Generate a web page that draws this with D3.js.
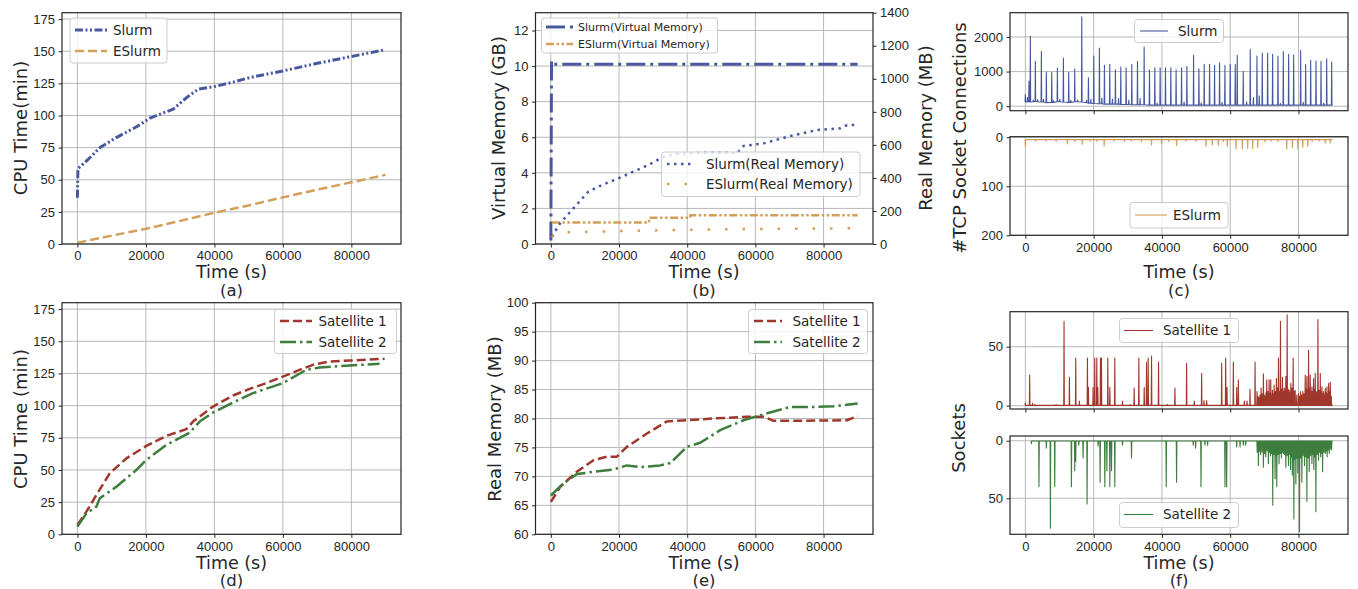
<!DOCTYPE html>
<html>
<head>
<meta charset="utf-8">
<script src="https://cdn.jsdelivr.net/npm/d3@7"></script>
<style>
  body { margin: 0; background: #fff; }
  svg { font-family: "DejaVu Sans", sans-serif; }
  .tick text { fill: #262626; font-size: 13px; }
  .tick line { stroke: #262626; }
  .grid line { stroke: #b0b0b0; stroke-width: 0.9; }
  .lab { fill: #262626; font-size: 18px; }
</style>
</head>
<body>
<svg id="chart" width="1358" height="589"></svg>
<script>
// ---------- data ----------
const timeTicks = [0, 20000, 40000, 60000, 80000];

// (a) CPU time, minutes
const cpuSlurm = [[0,36],[150,58.6],[2800,65],[6700,75.3],[11500,83],[17400,91.4],[21200,98],[28000,105],
  [31900,114],[35300,120.5],[39600,122.3],[45500,126],[50300,129.5],[60000,134.7],[69700,140.4],[79400,145.6],[89600,151]];
const cpuESlurm = [[0,1],[10000,6.5],[20000,11.8],[30000,18],[40000,24.3],[50000,30],[60000,36.3],[70000,42.3],[80000,48],[90000,53.8]];

// (b) virtual memory GB (left) and real memory MB (right)
const vmSlurm = [[0,0.2],[200,10.28],[700,10.1],[90000,10.1]];
const vmESlurm = [[300,1.21],[28800,1.21],[28800,1.48],[40900,1.48],[40900,1.61],[90000,1.61]];
const rmSlurm = [[300,44],[2700,125],[6600,216],[11000,317],[15400,361],[19800,397],[24200,438],[28600,478],[33000,528],
  [37000,545],[44800,552],[52600,552],[54500,545],[56500,593],[62400,609],[70200,653],[78000,690],[84900,700],[86900,720],[90000,720]];
const rmESlurm = [[300,40],[1500,65],[4000,70],[20000,78],[40000,86],[60000,91],[90000,95]];

// (c) TCP socket connections: [time, peak, floor]
const tcpSlurm = [[0,338,120],[1070,725,130],[1460,2020,120],[2930,1295,140],[4690,1585,120],[6150,976,100],[7720,976,110],
  [9380,1100,130],[11140,1390,120],[12700,976,110],[14460,1080,130],[16520,2580,120],[18470,820,90],[20030,1450,80],
  [21690,1680,70],[23160,1180,60],[24720,1210,60],[26380,1050,60],[27950,1130,50],[29510,1110,50],[31180,1210,40],
  [32840,1295,40],[34790,1710,40],[36350,1050,30],[37920,1110,30],[39480,1110,30],[41040,1110,30],[42610,1110,30],
  [44150,1050,30],[45750,1110,30],[47310,1150,30],[49270,1470,30],[50830,1080,30],[52390,1210,30],[53950,1210,30],
  [55420,1180,30],[56880,1255,30],[58450,1180,30],[60010,1210,30],[61480,1210,30],[62060,1470,30],[63820,1005,30],
  [65870,1640,30],[67830,1450,30],[69390,1535,30],[70960,1535,30],[72420,1500,30],[73990,1450,30],[75550,1575,30],
  [77110,1500,30],[78580,1480,30],[80630,1615,30],[82100,1200,30],[83570,1325,30],[85130,1305,30],[86600,1295,30],
  [88260,1370,30],[89720,1275,30]];
const tcpSlurmSmall = [[600,260,120],[2300,180,130],[3600,190,130],[5300,200,120],[8200,160,110],[10100,200,130],
  [13300,170,110],[15300,180,130],[17900,170,100],[19200,200,90],[22400,230,70],[25500,210,60],[27300,220,60],
  [30300,180,50],[33600,230,40],[38600,90,30],[46500,120,30],[51500,100,30],[57600,110,30],[64800,130,30],
  [66800,250,30],[68500,300,30],[74700,80,30],[81400,110,30],[87400,90,30]];
const tcpESlurm = [[0,19,5],[12320,14,5],[16630,15,5],[23080,18,5],[36960,16,5],[39890,14,5],[44290,17,5],[52900,19,5],
  [54750,16,5],[56510,17,5],[59150,19,5],[61700,24,5],[63560,24,5],[65120,23,5],[66590,23,5],[68060,21,5],[70210,10,5],
  [76560,24,5],[78230,21,5],[79790,24,5],[81260,21,5],[82730,19,5],[87820,12,5],[89280,12,5]];
const tcpESlurmSmall = [[3000,8,5],[6000,8,5],[9000,9,5],[14500,9,5],[19000,8,5],[21000,9,5],[26000,8,5],[29000,9,5],
  [31000,8,5],[34000,9,5],[42000,9,5],[47000,8,5],[50000,9,5],[58000,9,5],[72000,8,5],[74000,9,5],[84000,9,5],[86000,8,5]];

// (d) CPU time of satellites, minutes
const cpuSat1 = [[0,7.3],[2630,17.6],[5550,30.6],[9440,47.4],[14300,59],[20140,68.7],[25980,76.5],[31820,81.7],[33760,87.6],
  [39600,99.3],[45440,107.9],[50300,113],[55170,117.5],[60030,122.6],[64900,127.8],[68790,131.7],[73660,134.3],[79500,135],[89710,136.4]];
const cpuSat2 = [[0,6],[2630,16.3],[5550,21.5],[6520,28],[11380,37],[17220,50],[20140,57.8],[25980,69.5],[32790,79],
  [35710,87.6],[39600,94.6],[45440,102.4],[51270,109.7],[60030,117.5],[66840,127.8],[70730,129.6],[79500,131.2],[88260,132.5]];

// (e) real memory of satellites, MB
const memSat1 = [[0,65.6],[2740,68.2],[7630,70.8],[12520,72.8],[16430,73.4],[19360,73.4],[22290,75.1],[28170,77.4],
  [34030,79.5],[39900,79.7],[47720,80],[57500,80.3],[62400,80.3],[65330,79.6],[72180,79.6],[86850,79.7],[90000,80.4]];
const memSat2 = [[0,66.7],[3720,68.8],[7630,70.4],[12520,70.8],[18390,71.2],[22290,71.9],[26210,71.6],[32080,71.9],
  [35010,72.3],[39900,75.1],[43820,75.8],[49680,78],[56530,79.7],[60440,80.4],[65330,81.2],[70220,82],[77060,82],[82930,82.1],[90000,82.6]];

// (f) sockets of satellites: [time, peak, floor]
const sockSat1 = [[0,2.3,0.3],[1260,26,0.3],[2100,2,0.3],[2800,1,0.3],[9000,1,0.3],[11330,71.5,0.3],[12900,24,0.3],
  [14750,40.5,0.3],[15830,4,0.3],[18180,40.5,0.3],[18470,15.5,0.3],[19840,15.5,0.3],[20330,40.5,0.3],[20920,40.5,0.3],
  [21210,15.5,0.3],[22000,40.5,0.3],[22290,40.5,0.3],[24150,40.5,0.3],[24740,15.5,0.3],[26200,40.5,0.3],[28450,4,0.3],
  [30700,1,0.3],[31870,15,0.3],[33240,40.5,0.3],[34810,15.5,0.3],[35490,37,0.3],[35980,40.5,0.3],[36960,42,0.3],
  [39010,37,0.3],[41560,1,0.3],[43810,15,0.3],[47230,36,0.3],[49480,4,0.3],[51630,27.5,0.3],[52320,4.3,0.3],
  [53100,4.3,0.3],[57500,36,0.3],[58670,40.5,0.3],[59060,15.5,0.3],[60920,37,0.3],[61900,15.5,0.3],[62390,22,0.3],
  [64150,4,0.3],[64930,4,0.3],[65810,14,0.3],[67280,37,0.3],[67860,12,0.3],[68150,8,0.3],[68450,7,0.3],[68750,9,0.3],
  [69040,15,0.3],[69380,10,0.3],[69720,27,0.3],[69960,9,0.3],[70210,8,0.3],[70450,11,0.3],[70700,22,0.3],[71050,12,0.3],
  [71390,22,0.3],[71630,10,0.3],[71880,22,0.3],[72120,9,0.3],[72370,13,0.3],[72620,10,0.3],[72860,17.5,0.3],[73200,12,0.3],
  [73540,23,0.3],[73830,15,0.3],[74130,40.5,0.3],[74420,12,0.3],[74720,71.5,0.3],[75010,14,0.3],[75310,24,0.3],
  [75550,12,0.3],[75800,15,0.3],[76050,13,0.3],[76290,25,0.3],[76480,16,0.3],[76680,77,0.3],[76970,14,0.3],
  [77270,13,0.3],[77510,11,0.3],[77760,19,0.3],[78100,15,0.3],[78440,40.5,0.3],[78740,12,0.3],[79030,13,0.3],
  [79500,9,0.3],[80010,10,0.3],[80300,8,0.3],[80600,12,0.3],[80940,9,0.3],[81280,12,0.3],[81620,10,0.3],[81970,26,0.3],
  [82210,14,0.3],[82460,25,0.3],[82700,13,0.3],[82950,47,0.3],[83200,15,0.3],[83440,26,0.3],[83680,12,0.3],
  [83930,16,0.3],[84170,12,0.3],[84420,23,0.3],[84660,14,0.3],[84910,27.5,0.3],[85150,11,0.3],[85400,12,0.3],
  [85690,73,0.3],[86040,13,0.3],[86380,27.5,0.3],[86620,12,0.3],[86870,16,0.3],[87110,10,0.3],[87360,12,0.3],
  [87600,9,0.3],[87850,15,0.3],[88100,11,0.3],[88340,16,0.3],[88580,10,0.3],[88830,19,0.3],[89070,12,0.3],[89320,20,0.3],
  [89600,8,0.3]];
const sockSat2 = [[1760,2.6,0.3],[3990,40,0.3],[6150,6.4,0.3],[7330,76,0.3],[8600,40,0.3],[13490,40,0.3],[14460,26,0.3],
  [14750,18,0.3],[15640,4,0.3],[16910,15,0.3],[18080,55,0.3],[21310,4.6,0.3],[21900,36,0.3],[23270,40,0.3],[23870,26,0.3],
  [24740,40,0.3],[25230,26,0.3],[26200,40,0.3],[28450,4,0.3],[31090,15,0.3],[41260,40,0.3],[44290,36,0.3],[49190,4,0.3],
  [49870,6.4,0.3],[51440,40,0.3],[52610,4,0.3],[53390,4,0.3],[58470,40,0.3],[58960,40,0.3],[61900,5.5,0.3],[62880,5.5,0.3],
  [63850,4,0.3],[64540,4,0.3],[67900,10,0.3],[68260,21.5,0.3],[68580,9,0.3],[68900,12,0.3],[69300,10,0.3],[69720,23,0.3],
  [70050,11,0.3],[70400,14,0.3],[70800,9,0.3],[71190,20,0.3],[71500,10,0.3],[71800,13,0.3],[72130,11,0.3],[72460,56,0.3],
  [72800,12,0.3],[73150,33,0.3],[73400,13,0.3],[73640,40,0.3],[73980,12,0.3],[74320,20,0.3],[74660,11,0.3],[75000,15,0.3],
  [75300,10,0.3],[75600,11,0.3],[75950,12,0.3],[76290,23,0.3],[76680,13,0.3],[77070,21.5,0.3],[77360,12,0.3],
  [77660,25,0.3],[77930,14,0.3],[78200,30,0.3],[78420,15,0.3],[78640,68,0.3],[78930,16,0.3],[79230,37.5,0.3],
  [79520,15,0.3],[79800,28,0.3],[80050,14,0.3],[80300,79,0.3],[80650,15,0.3],[80990,36,0.3],[81380,13,0.3],
  [81770,21.5,0.3],[82110,14,0.3],[82460,52.6,0.3],[82800,15,0.3],[83150,27,0.3],[83540,13,0.3],[83930,20,0.3],
  [84210,12,0.3],[84500,25,0.3],[84800,14,0.3],[85100,61.6,0.3],[85490,12,0.3],[85880,17,0.3],[86190,10,0.3],
  [86500,14,0.3],[86780,11,0.3],[87060,27,0.3],[87450,10,0.3],[87850,11,0.3],[88120,9,0.3],[88400,14,0.3],
  [88700,8,0.3],[89020,11,0.3],[89350,7,0.3],[89700,8,0.3]];

// ---------- styles ----------
const BLUE = "#48589e", TAN = "#d2a05a", RED = "#a0372d", GREEN = "#3d7d3d";
const styleA1 = { color: BLUE, w: 3, dash: "8,2.5,2,2.5,2,2.5" };
const styleA2 = { color: TAN, w: 2.5, dash: "9,4" };
const styleB1 = { color: BLUE, w: 3, dash: "19,5,3,5" };
const styleB2 = { color: TAN, w: 2.5, dash: "8,2.5,2.5,2.5,2.5,2.5" };
const styleB3 = { color: BLUE, w: 2.5, dash: "2.5,4.5" };
const styleB4 = { color: TAN, w: 2.5, dash: "2.5,15" };
const styleS1 = { color: RED, w: 2.5, dash: "9,4" };
const styleS2 = { color: GREEN, w: 2.5, dash: "16,4,2.5,4" };
const thin = c => ({ color: c, w: 1.1 });

const svg = d3.select("#chart");
const X_DOMAIN = [-4500, 94500];
let clipN = 0;

function frame(box, yDomain, yTicks, opts = {}) {
  const g = svg.append("g");
  const x = d3.scaleLinear().domain(X_DOMAIN).range([box.x0, box.x1]);
  const y = d3.scaleLinear().domain(yDomain).range(opts.invert ? [box.y0, box.y1] : [box.y1, box.y0]);

  const grid = g.append("g").attr("class", "grid");
  grid.selectAll(".gx").data(timeTicks).join("line")
    .attr("x1", d => x(d)).attr("x2", d => x(d)).attr("y1", box.y0).attr("y2", box.y1);
  grid.selectAll(".gy").data(yTicks).join("line")
    .attr("y1", d => y(d)).attr("y2", d => y(d)).attr("x1", box.x0).attr("x2", box.x1);

  const id = "clip" + (clipN++);
  svg.append("clipPath").attr("id", id).append("rect")
    .attr("x", box.x0).attr("y", box.y0).attr("width", box.x1 - box.x0).attr("height", box.y1 - box.y0);
  const plot = g.append("g").attr("clip-path", `url(#${id})`);

  const xAxis = d3.axisBottom(x).tickValues(timeTicks).tickSize(3.5).tickPadding(3.5)
    .tickFormat(opts.noXLabels ? () => "" : d3.format("d"));
  g.append("g").attr("transform", `translate(0,${box.y1})`).call(xAxis).call(a => a.select(".domain").remove());
  const yAxis = d3.axisLeft(y).tickValues(yTicks).tickSize(3.5).tickPadding(3.5).tickFormat(d3.format("d"));
  g.append("g").attr("transform", `translate(${box.x0},0)`).call(yAxis).call(a => a.select(".domain").remove());

  const spines = g.append("rect").attr("x", box.x0).attr("y", box.y0)
    .attr("width", box.x1 - box.x0).attr("height", box.y1 - box.y0)
    .attr("fill", "none").attr("stroke", "#262626").attr("stroke-width", 1.2);
  return { g, x, y, plot, box, spines };
}

function drawLine(p, data, st, yScale) {
  const ys = yScale || p.y;
  p.plot.append("path").datum(data)
    .attr("d", d3.line().x(d => p.x(d[0])).y(d => ys(d[1])))
    .attr("fill", "none").attr("stroke", st.color).attr("stroke-width", st.w)
    .attr("stroke-dasharray", st.dash || null).attr("stroke-linejoin", "round");
}

// spikes [t, peak, floor] -> line points
function spikeLine(...lists) {
  const all = lists.flat().sort((a, b) => a[0] - b[0]);
  const pts = [];
  all.forEach(([t, v, f]) => { pts.push([t - 90, f], [t, v], [t + 90, f]); });
  pts.push([90000, all[all.length - 1][2]]);
  return pts;
}

function legend(L) {
  const g = svg.append("g");
  g.append("rect").attr("x", L.x).attr("y", L.y).attr("width", L.w).attr("height", L.h)
    .attr("rx", 3).attr("fill", "#fff").attr("fill-opacity", 0.8).attr("stroke", "#cccccc").attr("stroke-width", 1);
  L.rows.forEach(r => {
    g.append("line").attr("x1", L.lx0).attr("x2", L.lx1).attr("y1", r.y).attr("y2", r.y)
      .attr("stroke", r.st.color).attr("stroke-width", r.st.w).attr("stroke-dasharray", r.st.dash || null);
    g.append("text").attr("x", L.tx).attr("y", r.y).attr("dy", "0.36em")
      .attr("fill", "#262626").style("font-size", (L.fs || 13.5) + "px").text(r.label);
  });
}

function label(text, x, y, rotate, size) {
  const t = svg.append("text").attr("class", "lab").attr("text-anchor", "middle").text(text);
  if (size) t.style("font-size", size + "px");
  if (rotate) t.attr("transform", `translate(${x},${y}) rotate(-90)`).attr("dominant-baseline", "central");
  else t.attr("x", x).attr("y", y);
}

// ---------- (a) ----------
const pa = frame({ x0: 62, x1: 401, y0: 12.7, y1: 244 }, [0, 180], d3.range(0, 176, 25));
drawLine(pa, cpuSlurm, styleA1);
drawLine(pa, cpuESlurm, styleA2);
legend({ x: 70, y: 18, w: 97, h: 45, lx0: 75, lx1: 107, tx: 113,
  rows: [{ y: 30, st: styleA1, label: "Slurm" }, { y: 51, st: styleA2, label: "ESlurm" }] });
label("CPU Time(min)", 20, 128, true);
label("Time (s)", 231.5, 278, false, 17.5);
label("(a)", 231.5, 295.5, false, 16.5);

// ---------- (b) ----------
const pb = frame({ x0: 535.5, x1: 873, y0: 12.7, y1: 244 }, [0, 13], d3.range(0, 13, 2));
const yR = d3.scaleLinear().domain([0, 1400]).range([244, 12.7]);
pb.g.append("g").attr("transform", "translate(873,0)")
  .call(d3.axisRight(yR).tickValues(d3.range(0, 1401, 200)).tickSize(3.5).tickPadding(3.5).tickFormat(d3.format("d")))
  .call(a => a.select(".domain").remove());
drawLine(pb, vmSlurm, styleB1);
drawLine(pb, vmESlurm, styleB2);
drawLine(pb, rmSlurm, styleB3, yR);
drawLine(pb, rmESlurm, styleB4, yR);
pb.spines.raise();
legend({ x: 541.5, y: 18, w: 176, h: 35, lx0: 546, lx1: 573, tx: 578, fs: 11,
  rows: [{ y: 27, st: styleB1, label: "Slurm(Virtual Memory)" }, { y: 44, st: styleB2, label: "ESlurm(Virtual Memory)" }] });
legend({ x: 661.5, y: 152, w: 198.5, h: 44.5, lx0: 667, lx1: 693, tx: 706,
  rows: [{ y: 164, st: styleB3, label: "Slurm(Real Memory)" }, { y: 184, st: styleB4, label: "ESlurm(Real Memory)" }] });
label("Virtual Memory (GB)", 498, 128, true);
label("Real Memory (MB)", 925, 128, true);
label("Time (s)", 704, 278, false, 17.5);
label("(b)", 704, 295.5, false, 16.5);

// ---------- (c) ----------
const pc1 = frame({ x0: 1010, x1: 1348, y0: 12.7, y1: 110.7 }, [-130, 2700], [0, 1000, 2000], { noXLabels: true });
drawLine(pc1, spikeLine(tcpSlurm, tcpSlurmSmall), thin(BLUE));
const pc2 = frame({ x0: 1010, x1: 1348, y0: 136.7, y1: 235.3 }, [-1, 200], [0, 100, 200], { invert: true });
drawLine(pc2, spikeLine(tcpESlurm, tcpESlurmSmall), thin(TAN));
legend({ x: 1134.5, y: 19.5, w: 89, h: 23, lx0: 1140, lx1: 1168, tx: 1178,
  rows: [{ y: 31, st: thin(BLUE), label: "Slurm" }] });
legend({ x: 1130, y: 202.5, w: 98, h: 25.5, lx0: 1135, lx1: 1167, tx: 1173,
  rows: [{ y: 215, st: thin(TAN), label: "ESlurm" }] });
label("#TCP Socket Connections", 959, 138, true);
label("Time (s)", 1179, 278, false, 17.5);
label("(c)", 1179, 295.5, false, 16.5);

// ---------- (d) ----------
const pd = frame({ x0: 62, x1: 401, y0: 302.7, y1: 534.3 }, [0, 180], d3.range(0, 176, 25));
drawLine(pd, cpuSat1, styleS1);
drawLine(pd, cpuSat2, styleS2);
legend({ x: 274.5, y: 309.5, w: 122, h: 44, lx0: 280, lx1: 312, tx: 318.5,
  rows: [{ y: 321, st: styleS1, label: "Satellite 1" }, { y: 342, st: styleS2, label: "Satellite 2" }] });
label("CPU Time (min)", 20, 419, true);
label("Time (s)", 231.5, 569, false, 17.5);
label("(d)", 231.5, 586, false, 16.5);

// ---------- (e) ----------
const pe = frame({ x0: 535.5, x1: 873, y0: 302.7, y1: 534.3 }, [60, 100], d3.range(60, 101, 5));
drawLine(pe, memSat1, styleS1);
drawLine(pe, memSat2, styleS2);
legend({ x: 748.5, y: 309.5, w: 119, h: 44, lx0: 754, lx1: 782, tx: 792.5,
  rows: [{ y: 321, st: styleS1, label: "Satellite 1" }, { y: 342, st: styleS2, label: "Satellite 2" }] });
label("Real Memory (MB)", 494, 419, true);
label("Time (s)", 704, 569, false, 17.5);
label("(e)", 704, 586, false, 16.5);

// ---------- (f) ----------
const pf1 = frame({ x0: 1010, x1: 1348, y0: 311.7, y1: 409 }, [-2.8, 79.7], [0, 50], { noXLabels: true });
drawLine(pf1, spikeLine(sockSat1), thin(RED));
const pf2 = frame({ x0: 1010, x1: 1348, y0: 436, y1: 534.3 }, [-4.1, 81.3], [0, 50], { invert: true });
drawLine(pf2, spikeLine(sockSat2), thin(GREEN));
legend({ x: 1119.5, y: 318.5, w: 119, h: 24, lx0: 1124, lx1: 1153, tx: 1163,
  rows: [{ y: 330.5, st: thin(RED), label: "Satellite 1" }] });
legend({ x: 1119.5, y: 502.5, w: 119, h: 25, lx0: 1124, lx1: 1153, tx: 1163,
  rows: [{ y: 514.5, st: thin(GREEN), label: "Satellite 2" }] });
label("Sockets", 958, 438, true);
label("Time (s)", 1179, 569, false, 17.5);
label("(f)", 1179, 586, false, 16.5);
</script>
</body>
</html>
